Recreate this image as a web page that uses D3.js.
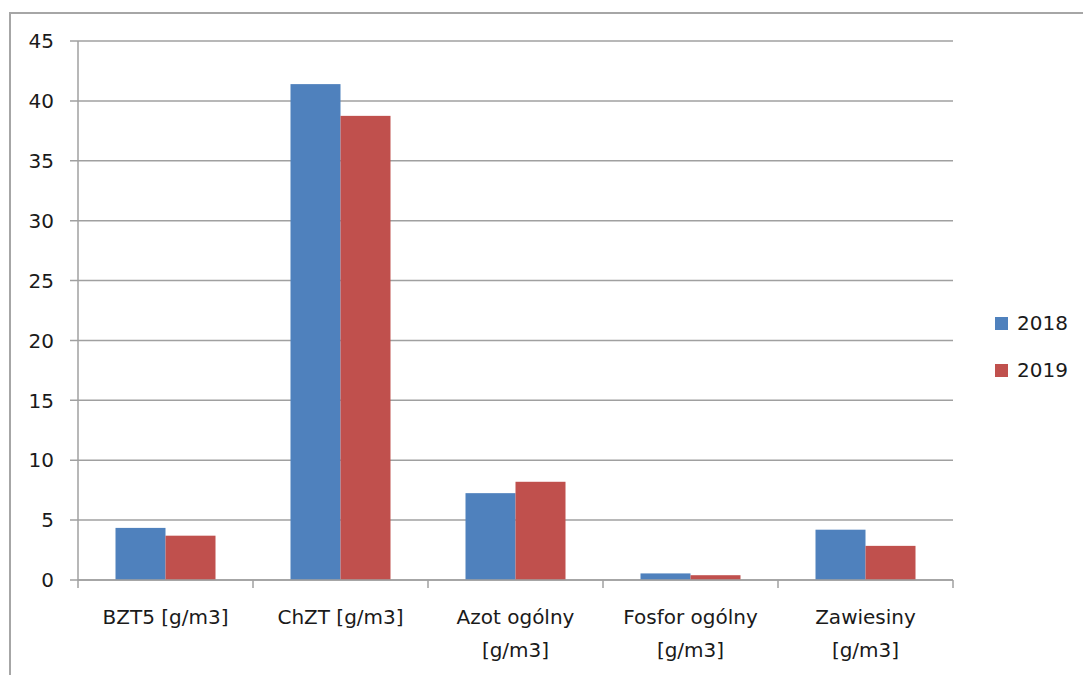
<!DOCTYPE html>
<html><head><meta charset="utf-8">
<script src="https://cdn.jsdelivr.net/npm/d3@7"></script>
<style>body{margin:0;background:#fff}text{font-family:"DejaVu Sans",sans-serif;fill:#1a1a1a}</style>
</head><body>
<svg id="c" width="1083" height="675"></svg>
<script>
const categories = [["BZT5 [g/m3]"],["ChZT [g/m3]"],["Azot ogólny","[g/m3]"],["Fosfor ogólny","[g/m3]"],["Zawiesiny","[g/m3]"]];
const series = ["2018","2019"];
const values2018 = [4.35, 41.4, 7.25, 0.55, 4.2];
const values2019 = [3.7, 38.75, 8.2, 0.4, 2.85];
const yTicks = [0,5,10,15,20,25,30,35,40,45];
const colors = ["#4f81bd","#c0504d"];

const svg = d3.select("#c");
svg.append("path").attr("d","M10,680V13H1090").attr("fill","none").attr("stroke","#a6a6a6").attr("stroke-width",2);

const x0 = 78, x1 = 953, yTop = 41, yBot = 580;
const x = d3.scaleBand().domain(d3.range(categories.length)).range([x0,x1]).paddingInner(0).paddingOuter(0);
const y = d3.scaleLinear().domain([0,45]).range([yBot,yTop]);
const xs = d3.scaleBand().domain(series).range([0,x.bandwidth()]).paddingInner(0).paddingOuter(0.75);

// gridlines
svg.append("g").selectAll("line").data(yTicks).join("line")
  .attr("x1",70).attr("x2",x1).attr("y1",d=>y(d)).attr("y2",d=>y(d))
  .attr("stroke","#a0a0a0").attr("stroke-width",1.5);

// bars
const data = categories.map((c,i)=>({i, vals:[values2018[i], values2019[i]]}));
const g = svg.append("g").selectAll("g").data(data).join("g").attr("transform",d=>`translate(${x(d.i)},0)`);
g.selectAll("rect").data(d=>d.vals.map((v,k)=>({v,k}))).join("rect")
  .attr("x",d=>xs(series[d.k])).attr("width",xs.bandwidth())
  .attr("y",d=>y(d.v)).attr("height",d=>yBot-y(d.v))
  .attr("fill",d=>colors[d.k]);

// axes lines
svg.append("line").attr("x1",x0).attr("x2",x0).attr("y1",yTop).attr("y2",yBot).attr("stroke","#a0a0a0").attr("stroke-width",1.5);
svg.append("line").attr("x1",x0).attr("x2",x1).attr("y1",yBot).attr("y2",yBot).attr("stroke","#a0a0a0").attr("stroke-width",1.5);
const bounds = d3.range(categories.length+1).map(i=> i<categories.length ? x(i) : x1);
svg.append("g").selectAll("line").data(bounds).join("line")
  .attr("x1",d=>d).attr("x2",d=>d).attr("y1",yBot).attr("y2",yBot+8)
  .attr("stroke","#a0a0a0").attr("stroke-width",1.5);

// y labels
svg.append("g").selectAll("text").data(yTicks).join("text")
  .attr("x",54).attr("y",d=>y(d)).attr("dy","0.36em").attr("text-anchor","end")
  .style("font-size","20px").text(d=>d);

// x labels
const xl = svg.append("g").selectAll("text").data(categories).join("text")
  .attr("text-anchor","middle").style("font-size","20px")
  .attr("transform",(d,i)=>`translate(${x(i)+x.bandwidth()/2},624)`);
xl.selectAll("tspan").data(d=>d).join("tspan").attr("x",0).attr("dy",(d,j)=>j?33:0).text(d=>d);

// legend
const lg = svg.append("g").selectAll("g").data(series).join("g").attr("transform",(d,i)=>`translate(995,${323+i*47})`);
lg.append("rect").attr("x",0).attr("y",-6).attr("width",13).attr("height",13).attr("fill",(d,i)=>colors[i]);
lg.append("text").attr("x",22).attr("dy","0.36em").style("font-size","20px").text(d=>d);
</script>
</body></html>
